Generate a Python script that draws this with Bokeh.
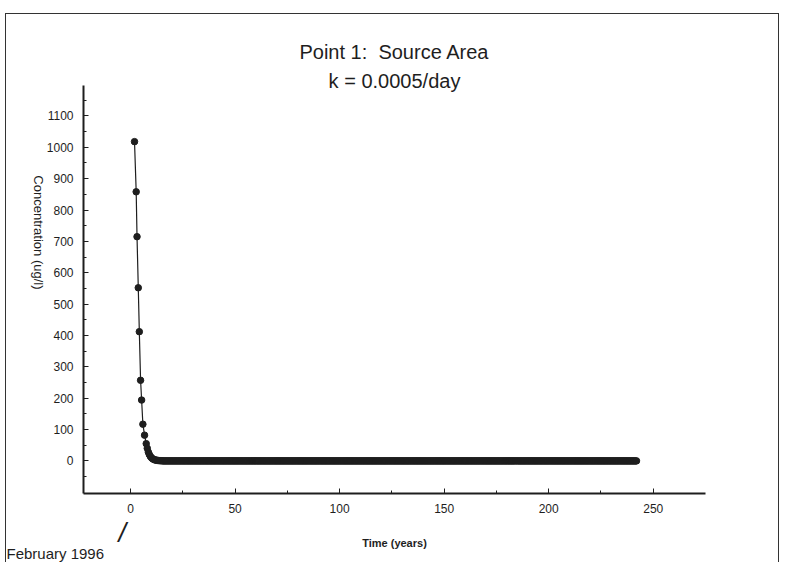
import math
import numpy as np
from bokeh.plotting import figure
from bokeh.models import FixedTicker, Range1d, Title, LinearAxis
from bokeh.embed import file_html
from bokeh.resources import INLINE

# ---- data ----
years_head = [1.9, 2.7, 3.1, 3.7, 4.2, 4.8, 5.3, 5.9, 6.7, 7.5,
              8.0, 8.5, 9.0, 9.5, 10.0, 10.5, 11.0, 11.5, 12.0, 12.5,
              13.0, 13.5, 14.0, 14.5, 15.0]
conc_head = [1018, 858, 715, 552, 412, 257, 194, 117, 82, 55,
             40, 28, 20, 14, 10, 7, 5, 3.5, 2.5, 2,
             1.5, 1, 0.7, 0.5, 0.3]
# flat tail: concentration stays at ~0 until the last sample (~242 years)
years_tail = np.arange(15.5, 242.5, 0.5).tolist()
conc_tail = [0.0] * len(years_tail)

years = years_head + years_tail
conc = conc_head + conc_tail

x_ticks = [0, 50, 100, 150, 200, 250]
x_minor = [25, 75, 125, 175, 225]
y_ticks = [0, 100, 200, 300, 400, 500, 600, 700, 800, 900, 1000, 1100]
y_minor = [-50, 50, 150, 250, 350, 450, 550, 650, 750, 850, 950, 1050, 1150]

title1 = "Point 1:\u00a0 Source Area"
title2 = "k = 0.0005/day"
x_label = "Time (years)"
y_label = "Concentration (ug/l)"
note = "February 1996"
pointer_at = -4          # the slash points at the start of the time axis

FONT = "Liberation Sans"
INK = "#1e1e1e"

p = figure(width=774, height=549, output_backend="svg", toolbar_location=None,
           title=None,
           x_range=Range1d(-22.5, 275), y_range=Range1d(-104, 1197),
           min_border_left=77, min_border_right=75,
           min_border_top=71, min_border_bottom=70)

# sheet frame of the scanned page (left, top and right edges)
p.styles = {"border-top": "1px solid #333", "border-left": "1px solid #333",
            "border-right": "1px solid #333", "margin-top": "13px",
            "margin-left": "5px"}

p.outline_line_color = None
p.xgrid.grid_line_color = None
p.ygrid.grid_line_color = None
p.background_fill_color = "white"
p.border_fill_color = "white"

p.xaxis.ticker = FixedTicker(ticks=x_ticks, minor_ticks=x_minor)
p.yaxis.ticker = FixedTicker(ticks=y_ticks, minor_ticks=y_minor)

for ax in (p.xaxis, p.yaxis):
    ax.axis_line_width = 2
    ax.axis_line_color = INK
    ax.major_tick_in = 5
    ax.major_tick_out = 0
    ax.minor_tick_in = 3
    ax.minor_tick_out = 0
    ax.major_tick_line_color = INK
    ax.minor_tick_line_color = INK
    ax.major_label_text_font = FONT
    ax.major_label_text_font_size = "12px"
    ax.major_label_text_color = INK

p.xaxis.major_label_standoff = 10
p.yaxis.major_label_standoff = 10

# y axis label, reading top to bottom
yax = p.yaxis[0]
yax.axis_label = y_label
yax.axis_label_text_font = FONT
yax.axis_label_text_font_size = "13px"
yax.axis_label_text_font_style = "normal"
yax.axis_label_text_color = INK
yax.axis_label_standoff = 5
if "axis_label_orientation" in type(yax).properties():
    yax.axis_label_orientation = -math.pi / 2

# second (bare) axis row below: the pointer slash and the time label
aux = LinearAxis(ticker=FixedTicker(ticks=[pointer_at], minor_ticks=[]),
                 major_label_overrides={pointer_at: "/"},
                 axis_line_color=None, major_tick_line_color=None,
                 minor_tick_line_color=None,
                 major_tick_in=0, major_tick_out=0,
                 minor_tick_in=0, minor_tick_out=0,
                 major_label_standoff=2,
                 major_label_text_font=FONT, major_label_text_font_size="27px",
                 major_label_text_font_style="italic",
                 major_label_text_color=INK,
                 axis_label=x_label, axis_label_standoff=-14,
                 axis_label_text_font=FONT, axis_label_text_font_size="11px",
                 axis_label_text_font_style="bold", axis_label_text_color=INK)
p.add_layout(aux, "below")

p.add_layout(Title(text=note, align="left", offset=-77, vertical_align="top",
                   standoff=-13, text_font=FONT, text_font_size="15px",
                   text_font_style="normal", text_color=INK), "below")

# titles (the first added sits closest to the frame)
p.add_layout(Title(text=title2, align="center", standoff=-12, text_font=FONT,
                   text_font_size="20px", text_font_style="normal",
                   text_color=INK), "above")
p.add_layout(Title(text=title1, align="center", standoff=21, text_font=FONT,
                   text_font_size="20px", text_font_style="normal",
                   text_color=INK), "above")

p.line(years, conc, line_color=INK, line_width=1.2)
p.scatter(years, conc, size=6.5, marker="circle", fill_color=INK, line_color=INK)

open("out.html", "w").write(file_html(p, INLINE))
